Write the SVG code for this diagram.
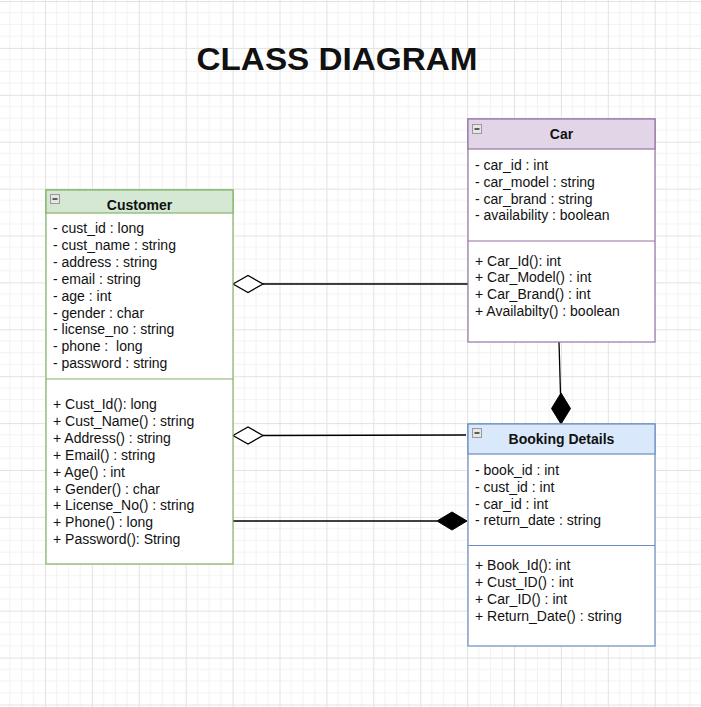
<svg xmlns="http://www.w3.org/2000/svg" width="701" height="707" viewBox="0 0 701 707">
<style>
.t{font-family:"Liberation Sans",Arial,sans-serif;font-size:14px;fill:#111}
.h{font-family:"Liberation Sans",Arial,sans-serif;font-size:14px;font-weight:bold;fill:#111;text-anchor:middle}
.title{font-family:"Liberation Sans",Arial,sans-serif;font-size:31px;font-weight:bold;fill:#111;text-anchor:middle}
.ln{stroke:#000;stroke-width:1.3;fill:none}
.icon{fill:#e6e6e6;stroke:#999;stroke-width:1}
.minus{stroke:#222;stroke-width:1.4}
</style>
<defs>
<pattern id="grid" patternUnits="userSpaceOnUse" x="45" y="1" width="46.9" height="46.9">
<path d="M11.725 0V46.9M23.45 0V46.9M35.175 0V46.9M0 11.725H46.9M0 23.45H46.9M0 35.175H46.9" stroke="#f2f2f2" stroke-width="1" fill="none"/>
<path d="M0.5 0V46.9M0 0.5H46.9" stroke="#e2e2e2" stroke-width="1" fill="none"/>
</pattern>
</defs>
<rect width="701" height="707" fill="#fff"/>
<rect width="701" height="707" fill="url(#grid)"/>
<text class="title" x="337" y="70" textLength="281" lengthAdjust="spacingAndGlyphs">CLASS DIAGRAM</text>

<g id="connectors">
<line class="ln" x1="263" y1="284" x2="468" y2="284"/>
<polygon points="233,284 248,275.5 263,284 248,292.5" fill="#fff" stroke="#000" stroke-width="1.3"/>
<line class="ln" x1="263" y1="435.5" x2="466" y2="435"/>
<polygon points="233,435.5 248,427 263,435.5 248,444" fill="#fff" stroke="#000" stroke-width="1.3"/>
<line class="ln" x1="233" y1="521" x2="437" y2="521"/>
<polygon points="437,521 452,512 467,521 452,530" fill="#000" stroke="#000" stroke-width="1"/>
<line class="ln" x1="559" y1="342" x2="560.5" y2="394"/>
<polygon points="561,424 551.5,408.5 561,393 570.5,408.5" fill="#000" stroke="#000" stroke-width="1"/>
</g>

<g id="customer">
<rect x="46" y="190" width="187" height="374" fill="#fff" stroke="#82b366" stroke-width="1.2"/>
<rect x="46" y="190" width="187" height="23" fill="#d5e8d4" stroke="#82b366" stroke-width="1.2"/>
<line x1="46" y1="379" x2="233" y2="379" stroke="#82b366" stroke-width="1.2"/>
<rect class="icon" x="50.5" y="194.5" width="9" height="9"/>
<line class="minus" x1="52.5" y1="199" x2="57.5" y2="199"/>
<text class="h" x="139.5" y="209.5">Customer</text>
<text class="t" x="53" y="233">- cust_id : long</text>
<text class="t" x="53" y="249.9">- cust_name : string</text>
<text class="t" x="53" y="266.8">- address : string</text>
<text class="t" x="53" y="283.7">- email : string</text>
<text class="t" x="53" y="300.6">- age : int</text>
<text class="t" x="53" y="317.5">- gender : char</text>
<text class="t" x="53" y="334.4">- license_no : string</text>
<text class="t" x="53" y="351.3" xml:space="preserve">- phone :  long</text>
<text class="t" x="53" y="368.2">- password : string</text>
<text class="t" x="53" y="409">+ Cust_Id(): long</text>
<text class="t" x="53" y="425.9">+ Cust_Name() : string</text>
<text class="t" x="53" y="442.8">+ Address() : string</text>
<text class="t" x="53" y="459.7">+ Email() : string</text>
<text class="t" x="53" y="476.6">+ Age() : int</text>
<text class="t" x="53" y="493.5">+ Gender() : char</text>
<text class="t" x="53" y="510.4">+ License_No() : string</text>
<text class="t" x="53" y="527.3">+ Phone() : long</text>
<text class="t" x="53" y="544.2">+ Password(): String</text>
</g>

<g id="car">
<rect x="468" y="119" width="187" height="223" fill="#fff" stroke="#9673a6" stroke-width="1.2"/>
<rect x="468" y="119" width="187" height="30" fill="#e1d5e7" stroke="#9673a6" stroke-width="1.2"/>
<line x1="468" y1="241" x2="655" y2="241" stroke="#9673a6" stroke-width="1.2"/>
<rect class="icon" x="472.5" y="124.5" width="9" height="9"/>
<line class="minus" x1="474.5" y1="129" x2="479.5" y2="129"/>
<text class="h" x="561.5" y="138.5">Car</text>
<text class="t" x="475" y="170">- car_id : int</text>
<text class="t" x="475" y="186.5">- car_model : string</text>
<text class="t" x="475" y="204">- car_brand : string</text>
<text class="t" x="475" y="220.3">- availability : boolean</text>
<text class="t" x="475" y="265.7">+ Car_Id(): int</text>
<text class="t" x="475" y="282.4">+ Car_Model() : int</text>
<text class="t" x="475" y="299.3">+ Car_Brand() : int</text>
<text class="t" x="475" y="315.8">+ Availabilty() : boolean</text>
</g>

<g id="booking">
<rect x="468" y="424" width="187" height="222" fill="#fff" stroke="#6c8ebf" stroke-width="1.2"/>
<rect x="468" y="424" width="187" height="30" fill="#dae8fc" stroke="#6c8ebf" stroke-width="1.2"/>
<line x1="468" y1="545.5" x2="655" y2="545.5" stroke="#6c8ebf" stroke-width="1.2"/>
<rect class="icon" x="472.5" y="428.5" width="9" height="9"/>
<line class="minus" x1="474.5" y1="433" x2="479.5" y2="433"/>
<text class="h" x="561.5" y="443.5">Booking Details</text>
<text class="t" x="475" y="475">- book_id : int</text>
<text class="t" x="475" y="491.5">- cust_id : int</text>
<text class="t" x="475" y="509">- car_id : int</text>
<text class="t" x="475" y="525.3">- return_date : string</text>
<text class="t" x="475" y="570">+ Book_Id(): int</text>
<text class="t" x="475" y="587.3">+ Cust_ID() : int</text>
<text class="t" x="475" y="604">+ Car_ID() : int</text>
<text class="t" x="475" y="620.7">+ Return_Date() : string</text>
</g>
</svg>
